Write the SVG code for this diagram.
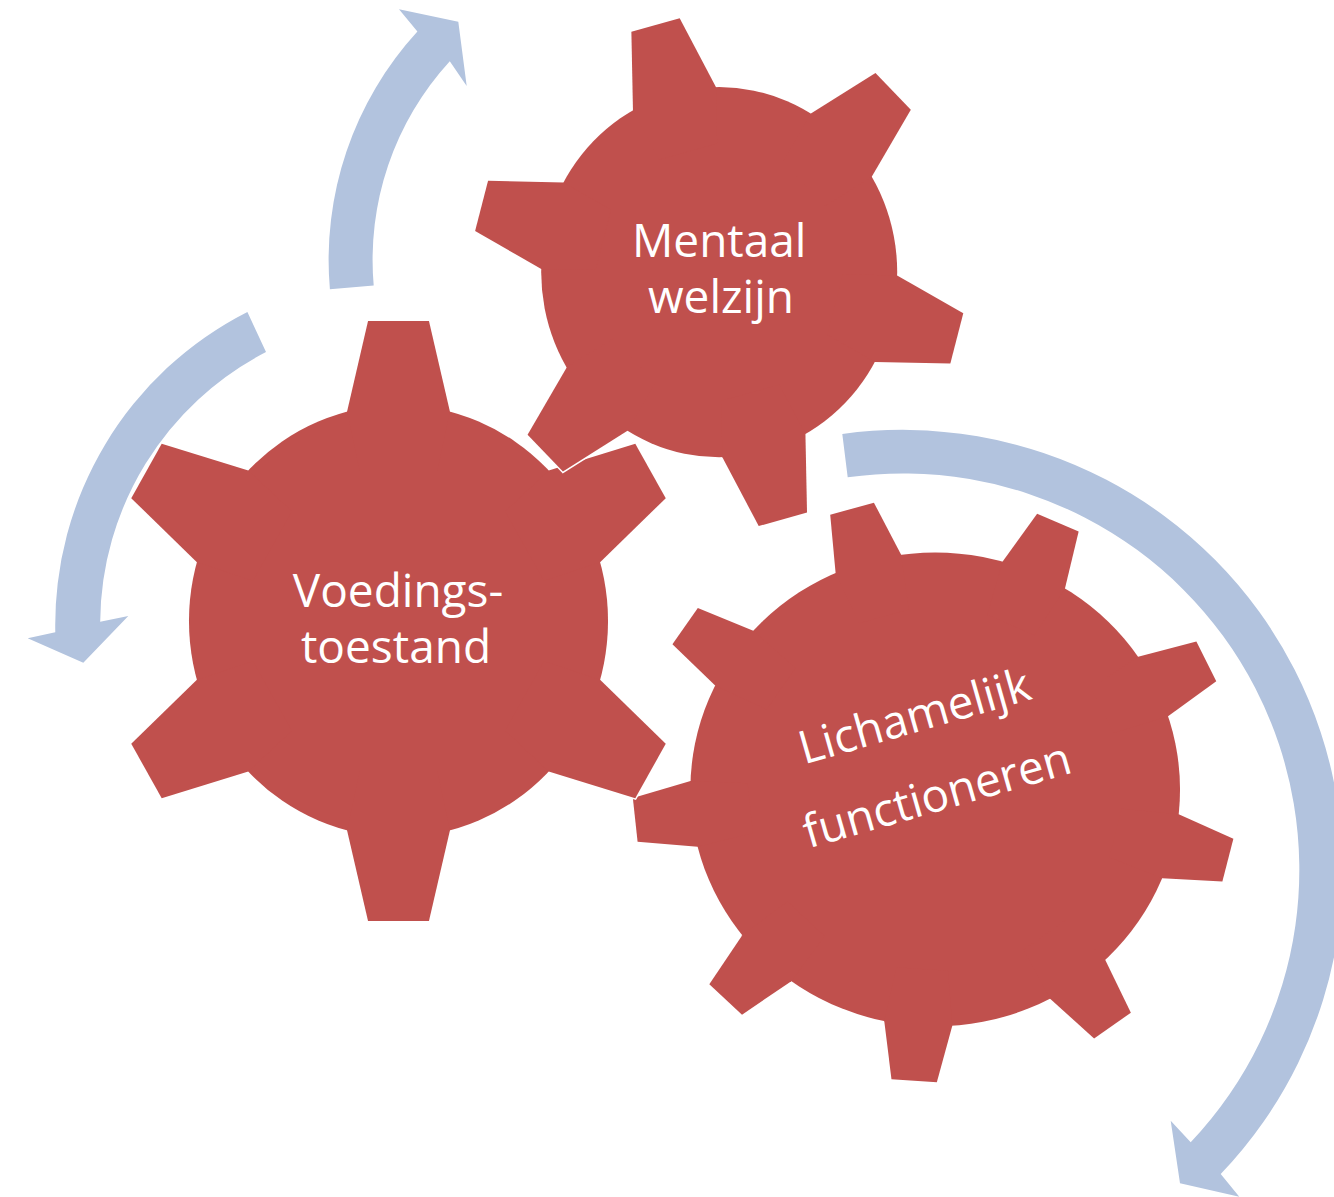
<svg xmlns="http://www.w3.org/2000/svg" xmlns:xlink="http://www.w3.org/1999/xlink" width="1334" height="1197" viewBox="0 0 1334 1197">
<style>
.arrow{fill:#B2C3DE}
.label{font-family:"Open Sans","Noto Sans","DejaVu Sans",sans-serif;font-size:46px;fill:#FFFFFF;text-anchor:middle}
</style>
<defs>
  <path id="t1" d="M-31.4,-300 L31.4,-300 L53,-209.4 L40,-150 L-40,-150 L-53,-209.4 Z"/>
  <path id="t2" d="M-25,-246 L25,-246 L43,-172.7 L30,-120 L-30,-120 L-43,-172.7 Z"/>
  <path id="t3" d="M-22,-292 L22,-292 L33,-234.7 L25,-180 L-25,-180 L-33,-234.7 Z"/>
  <g id="g1shape">
    <circle r="216"/>
    <use href="#t1"/>
    <use href="#t1" transform="rotate(60)"/>
    <use href="#t1" transform="rotate(120)"/>
    <use href="#t1" transform="rotate(180)"/>
    <use href="#t1" transform="rotate(240)"/>
    <use href="#t1" transform="rotate(300)"/>
  </g>
  <g id="g2shape">
    <circle r="178"/>
    <use href="#t2" transform="rotate(-15)"/>
    <use href="#t2" transform="rotate(45)"/>
    <use href="#t2" transform="rotate(105)"/>
    <use href="#t2" transform="rotate(165)"/>
    <use href="#t2" transform="rotate(225)"/>
    <use href="#t2" transform="rotate(285)"/>
  </g>
  <g id="g3shape">
    <circle r="237"/>
    <use href="#t3" transform="rotate(-16)"/>
    <use href="#t3" transform="rotate(24)"/>
    <use href="#t3" transform="rotate(64)"/>
    <use href="#t3" transform="rotate(104)"/>
    <use href="#t3" transform="rotate(144)"/>
    <use href="#t3" transform="rotate(184)"/>
    <use href="#t3" transform="rotate(224)"/>
    <use href="#t3" transform="rotate(264)"/>
    <use href="#t3" transform="rotate(304)"/>
  </g>
</defs>
<rect width="1334" height="1197" fill="#FFFFFF"/>

<g id="gear-lichamelijk">
  <g transform="translate(935.2,789.4) scale(1.033,1)">
    <use href="#g3shape" fill="#FFFFFF" stroke="#FFFFFF" stroke-width="3"/>
    <use href="#g3shape" fill="#C0504D"/>
  </g>
  <g class="label" transform="translate(930,771) rotate(-16)">
    <text x="0" y="-41">Lichamelijk</text>
    <text x="0" y="41">functioneren</text>
  </g>
</g>

<g id="gear-voeding">
  <g transform="translate(398.5,621) scale(0.97,1)">
    <use href="#g1shape" fill="#FFFFFF" stroke="#FFFFFF" stroke-width="3"/>
    <use href="#g1shape" fill="#C0504D"/>
  </g>
  <text class="label" x="398" y="606.7">Voedings-</text>
  <text class="label" x="396" y="663.3">toestand</text>
</g>

<g id="gear-mentaal">
  <g transform="translate(719.2,272.2) scale(1,1.04)">
    <use href="#g2shape" fill="#FFFFFF" stroke="#FFFFFF" stroke-width="3"/>
    <use href="#g2shape" fill="#C0504D"/>
  </g>
  <text class="label" x="719.2" y="256.5">Mentaal</text>
  <text class="label" x="721" y="313.2">welzijn</text>
</g>

<g id="connectors">
  <path class="arrow" d="M329.9,289.3 A338,338 0 0 1 417.4,31.5 L399,9.3 L458.3,21.7 L466.7,86 L449.8,61.2 A294,294 0 0 0 373.7,285.4 Z"/>
  <path class="arrow" d="M247.4,311.9 A351,351 0 0 0 55.3,632.3 L27.7,638.3 L83.3,662.7 L128.3,616 L100.2,621.7 A306,306 0 0 1 266,352 Z"/>
  <path class="arrow" d="M842.3,434 A440,440 0 0 1 1220.7,1174 L1239.3,1196.7 L1180,1183.3 L1170.7,1120.7 L1190.7,1142.3 A396.3,396.3 0 0 0 847.7,477.3 Z"/>
</g>
</svg>
